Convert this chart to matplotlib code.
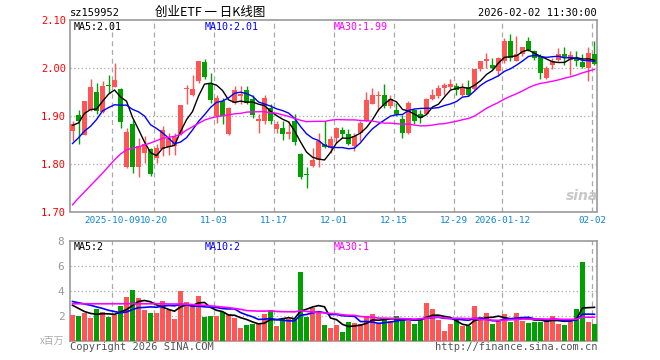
import numpy as np
import pandas as pd
import matplotlib
matplotlib.use('Agg')
import matplotlib.pyplot as plt

# daily K line of sz159952, index 0 .. 87 (last = 2026-02-02)
opens = [1.868, 1.901, 1.860, 1.912, 1.949, 1.908, 1.965, 1.961, 1.955, 1.792,
         1.882, 1.793, 1.823, 1.830, 1.812, 1.830, 1.835, 1.837, 1.861, 1.955,
         1.943, 1.972, 2.012, 1.969, 1.899, 1.931, 1.861, 1.927, 1.942, 1.953,
         1.934, 1.890, 1.890, 1.917, 1.872, 1.874, 1.862, 1.889, 1.821, 1.779,
         1.795, 1.807, 1.842, 1.833, 1.853, 1.870, 1.861, 1.837, 1.865, 1.889,
         1.925, 1.942, 1.943, 1.920, 1.913, 1.894, 1.863, 1.912, 1.903, 1.904,
         1.936, 1.941, 1.957, 1.960, 1.962, 1.944, 1.960, 1.955, 1.997, 2.014,
         2.005, 1.993, 2.014, 2.057, 2.015, 2.028, 2.057, 2.035, 2.024, 1.978,
         2.005, 2.017, 2.029, 2.017, 2.021, 2.013, 1.999, 2.028]
highs = [1.889, 1.911, 1.931, 1.976, 1.969, 1.972, 1.986, 2.010, 1.957, 1.875,
         1.892, 1.853, 1.858, 1.833, 1.840, 1.878, 1.865, 1.865, 1.922, 1.964,
         1.986, 2.014, 2.019, 1.990, 1.944, 1.938, 1.918, 1.962, 1.963, 1.962,
         1.944, 1.903, 1.944, 1.924, 1.889, 1.889, 1.889, 1.903, 1.823, 1.792,
         1.833, 1.865, 1.888, 1.858, 1.876, 1.876, 1.872, 1.865, 1.888, 1.950,
         1.957, 1.951, 1.967, 1.944, 1.927, 1.901, 1.931, 1.915, 1.913, 1.938,
         1.955, 1.964, 1.969, 1.976, 1.969, 1.969, 1.974, 1.998, 2.014, 2.031,
         2.021, 2.022, 2.063, 2.071, 2.066, 2.044, 2.064, 2.038, 2.028, 2.003,
         2.021, 2.042, 2.043, 2.036, 2.036, 2.028, 2.043, 2.056]
lows = [1.847, 1.842, 1.859, 1.910, 1.903, 1.906, 1.948, 1.960, 1.875, 1.790,
        1.781, 1.773, 1.802, 1.774, 1.802, 1.816, 1.818, 1.819, 1.860, 1.925,
        1.941, 1.969, 1.976, 1.927, 1.885, 1.882, 1.860, 1.924, 1.924, 1.924,
        1.896, 1.865, 1.882, 1.882, 1.865, 1.849, 1.851, 1.839, 1.767, 1.750,
        1.792, 1.793, 1.833, 1.823, 1.844, 1.853, 1.839, 1.826, 1.847, 1.888,
        1.924, 1.910, 1.917, 1.917, 1.899, 1.854, 1.861, 1.882, 1.885, 1.903,
        1.932, 1.938, 1.944, 1.955, 1.944, 1.941, 1.941, 1.953, 1.994, 2.000,
        1.997, 1.983, 2.010, 2.014, 2.014, 2.024, 2.036, 2.017, 1.976, 1.976,
        1.997, 2.014, 2.007, 1.986, 2.003, 1.999, 1.972, 2.006]
closes = [1.882, 1.888, 1.930, 1.960, 1.910, 1.962, 1.963, 1.974, 1.887, 1.866,
          1.793, 1.837, 1.842, 1.778, 1.833, 1.870, 1.853, 1.856, 1.922, 1.958,
          1.955, 2.014, 1.981, 1.932, 1.938, 1.899, 1.917, 1.953, 1.946, 1.927,
          1.901, 1.894, 1.938, 1.888, 1.882, 1.862, 1.866, 1.845, 1.772, 1.776,
          1.808, 1.847, 1.835, 1.851, 1.874, 1.861, 1.842, 1.858, 1.884, 1.932,
          1.944, 1.944, 1.920, 1.934, 1.903, 1.865, 1.927, 1.888, 1.896, 1.936,
          1.944, 1.957, 1.964, 1.967, 1.953, 1.958, 1.943, 1.997, 2.014, 2.019,
          2.000, 2.021, 2.056, 2.021, 2.028, 2.044, 2.038, 2.021, 1.990, 2.000,
          2.015, 2.030, 2.022, 2.026, 2.014, 2.001, 2.031, 2.008]
# volume, millions
volume = [2.05, 1.97, 2.24, 1.84, 2.53, 2.32, 1.89, 2.05, 2.76, 3.47,
          4.03, 3.45, 2.45, 2.24, 2.24, 3.16, 2.50, 1.74, 3.95, 3.11,
          2.84, 3.55, 1.92, 1.97, 1.97, 2.32, 2.18, 1.84, 1.00, 1.26,
          1.34, 1.39, 2.13, 2.45, 1.18, 1.74, 1.79, 1.74, 5.47, 1.92,
          2.63, 2.37, 1.26, 1.00, 1.26, 0.74, 1.53, 1.47, 1.32, 1.97,
          2.13, 1.39, 1.74, 1.61, 2.00, 1.74, 1.61, 1.34, 1.75, 3.03,
          2.53, 1.66, 0.82, 1.34, 1.66, 1.18, 1.21, 2.76, 1.92, 2.24,
          1.34, 1.66, 2.13, 1.53, 2.24, 1.61, 1.47, 1.53, 1.53, 1.71,
          1.97, 1.39, 1.26, 1.66, 2.53, 6.32, 1.53, 1.39]

# moving average values at the start of the window (history not shown)
ma5_head = [1.880, 1.885, 1.905, 1.913]
ma10_head = [1.842, 1.854, 1.868, 1.878, 1.892, 1.910, 1.917, 1.923, 1.922]
ma30_head = [1.714, 1.728, 1.741, 1.754, 1.767, 1.780, 1.794, 1.808, 1.820, 1.829,
             1.832, 1.835, 1.839, 1.843, 1.848, 1.853, 1.855, 1.857, 1.861, 1.870,
             1.877, 1.884, 1.891, 1.895, 1.898, 1.900, 1.902, 1.904, 1.905]
vma5_head = [2.85, 2.60, 2.35, 2.20]
vma10_head = [3.15, 3.05, 2.95, 2.85, 2.72, 2.60, 2.45, 2.35, 2.25]
vma30_head = [2.97, 2.97, 2.97, 2.97, 2.97, 2.97, 2.97, 2.97, 2.97, 2.97,
              2.97, 2.97, 2.97, 2.97, 2.97, 2.97, 2.95, 2.95, 2.95, 2.93,
              2.91, 2.88, 2.84, 2.80, 2.76, 2.71, 2.66, 2.60, 2.53]

tick_idx = [7, 14, 24, 34, 44, 54, 64, 72, 87]
tick_labels = ['2025-10-09', '10-20', '11-03', '11-17', '12-01',
               '12-15', '12-29', '2026-01-12', '02-02']
price_ticks = [1.70, 1.80, 1.90, 2.00, 2.10]
vol_ticks = [2, 4, 6, 8]

RED = '#ff5555'
GREEN = '#00a000'
GRID = '#aaaaaa'
FRAME = '#999999'
MONO = 'DejaVu Sans Mono'
CJK = ['Noto Sans CJK SC', 'DejaVu Sans']


def moving(values, n, head):
    m = pd.Series(values).rolling(n).mean().to_numpy()
    m[:len(head)] = head
    return m


o = np.array(opens)
h = np.array(highs)
l = np.array(lows)
c = np.array(closes)
v = np.array(volume)
x = np.arange(len(c))
up = c >= o
colors = np.where(up, RED, GREEN)

W, H = 660, 360
fig = plt.figure(figsize=(6.6, 3.6), dpi=100)
ax = fig.add_axes([70 / W, 1 - 211.5 / H, 527 / W, 191.5 / H])
axv = fig.add_axes([70 / W, 1 - 341 / H, 527 / W, 100.3 / H])

for a in (ax, axv):
    a.set_xlim(-0.42, 87.42)
    for s in a.spines.values():
        s.set_color(FRAME)
        s.set_linewidth(1.2)
    for t in tick_idx:
        a.axvline(t - 0.38, color=GRID, lw=0.9, ls=(0, (4, 3)), zorder=0)
    a.set_xticks([])

# price panel
ax.set_ylim(1.70, 2.10)
for p in price_ticks[1:-1]:
    ax.axhline(p, color=GRID, lw=0.9, ls=(0, (1, 2)), zorder=0)
ax.vlines(x, l, h, colors=colors, lw=1, zorder=2)
body = np.maximum(np.abs(c - o), 0.0016)
ax.bar(x, body, bottom=np.minimum(o, c), width=0.82, color=colors, zorder=3)
ax.plot(x, moving(c, 5, ma5_head), color='black', lw=1, zorder=4)
ax.plot(x, moving(c, 10, ma10_head), color='#0000ff', lw=1, zorder=4)
ax.plot(x, moving(c, 30, ma30_head), color='#ff00ff', lw=1, zorder=4)
ax.set_yticks(price_ticks)
ax.set_yticklabels(['%.2f' % p for p in price_ticks], color='red',
                   family=MONO, fontsize=7.5)
ax.tick_params(axis='y', length=0, pad=3)

# volume panel
axv.set_ylim(0, 8)
for p in vol_ticks[:-1]:
    axv.axhline(p, color=GRID, lw=0.9, ls=(0, (1, 2)), zorder=0)
axv.bar(x, v, width=0.82, color=colors, zorder=3)
axv.plot(x, moving(v, 5, vma5_head), color='black', lw=1.2, zorder=4)
axv.plot(x, moving(v, 10, vma10_head), color='#0000ff', lw=1.2, zorder=4)
axv.plot(x, moving(v, 30, vma30_head), color='#ff00ff', lw=1.2, zorder=4)
axv.set_yticks(vol_ticks)
axv.set_yticklabels([str(t) for t in vol_ticks], color='#999999',
                    family=MONO, fontsize=8)
axv.tick_params(axis='y', length=0, pad=4)

# date labels between the panels
for t, lab in zip(tick_idx, tick_labels):
    ax.text(t - 0.38, -0.025, lab, transform=ax.get_xaxis_transform(),
            ha='center', va='top', color='#0a84d0', family=MONO, fontsize=6.7)


def ftext(px, py, s, **kw):
    fig.text(px / W, 1 - py / H, s, **kw)


ftext(70, 13, 'sz159952', family=MONO, fontsize=7.5, va='center')
ftext(210, 12, '创业ETF 一 日K线图', family=CJK, fontsize=9, va='center', ha='center')
ftext(597, 13, '2026-02-02 11:30:00', family=MONO, fontsize=7.5, va='center', ha='right')

ftext(74, 27, 'MA5:2.01', family=MONO, fontsize=7.2, va='center')
ftext(205, 27, 'MA10:2.01', family=MONO, fontsize=7.2, va='center', color='#0000ff')
ftext(334, 27, 'MA30:1.99', family=MONO, fontsize=7.2, va='center', color='#ff00ff')
ftext(74, 247, 'MA5:2', family=MONO, fontsize=7.2, va='center')
ftext(205, 247, 'MA10:2', family=MONO, fontsize=7.2, va='center', color='#0000ff')
ftext(334, 247, 'MA30:1', family=MONO, fontsize=7.2, va='center', color='#ff00ff')

ftext(582, 196, 'sina', family='DejaVu Sans', fontsize=10, fontweight='bold',
      style='italic', color='#c8c8c8', va='center', ha='center')
ftext(64, 341, 'x百万', family=CJK, fontsize=7, color='#aaaaaa', va='center', ha='right')
ftext(70, 347, 'Copyright 2026 SINA.COM', family=MONO, fontsize=7.5,
      color='#555555', va='center')
ftext(597, 347, 'http://finance.sina.com.cn', family=MONO, fontsize=7.5,
      color='#555555', va='center', ha='right')

fig.savefig('out.png', dpi=100)
